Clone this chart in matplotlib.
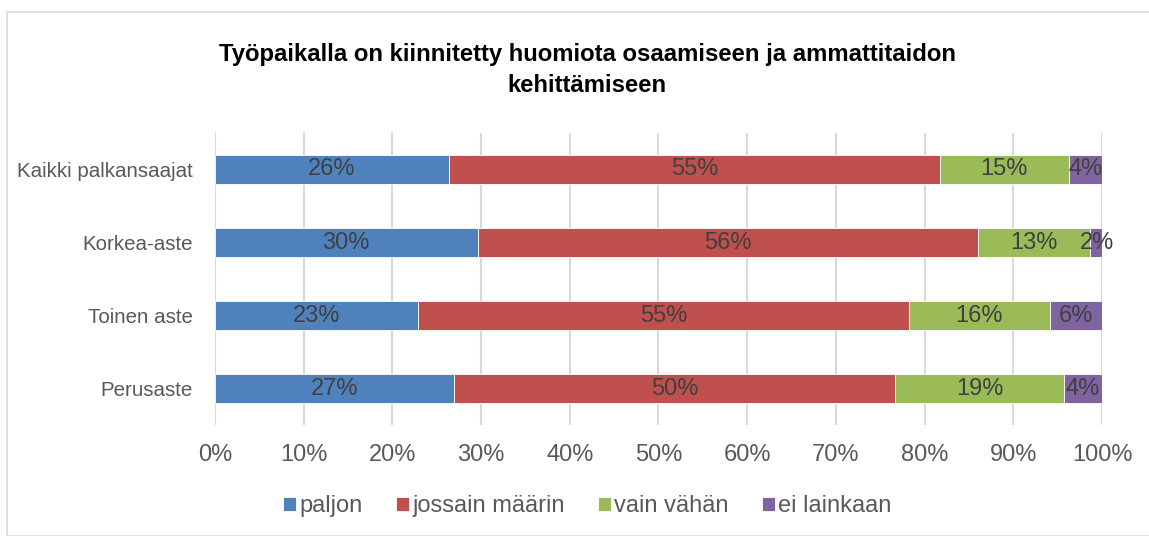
import matplotlib.pyplot as plt
import matplotlib.patches as mpatches
from matplotlib import font_manager

# data (shares in percent)
categories = ['Kaikki palkansaajat', 'Korkea-aste', 'Toinen aste', 'Perusaste']
series_names = ['paljon', 'jossain määrin', 'vain vähän', 'ei lainkaan']
paljon = [26.4, 29.6, 22.9, 26.9]
jossain = [55.3, 56.4, 55.3, 49.8]
vain_vahan = [14.6, 12.6, 15.9, 19.0]
ei_lainkaan = [3.7, 1.6, 5.9, 4.3]
x_ticks = [0, 10, 20, 30, 40, 50, 60, 70, 80, 90, 100]

colors = ['#4F81BD', '#C0504D', '#9BBB59', '#8064A2']

installed = {f.name for f in font_manager.fontManager.ttflist}
narrow = 'Liberation Sans Narrow' if 'Liberation Sans Narrow' in installed else None
plt.rcParams['font.family'] = ['Liberation Sans', 'DejaVu Sans']

fig = plt.figure(figsize=(11.49, 5.36), dpi=100)
ax = fig.add_axes([0.1871, 0.207, 0.7720, 0.5449])

values = [paljon, jossain, vain_vahan, ei_lainkaan]
ypos = list(range(len(categories)))
left = [0.0] * len(categories)
for name, vals, col in zip(series_names, values, colors):
    ax.barh(ypos, vals, left=left, height=0.4, color=col, label=name,
            edgecolor='white', linewidth=0.6, zorder=3)
    for y, l, v in zip(ypos, left, vals):
        ax.text(l + v / 2, y, f'{v:.0f}%', ha='center', va='center',
                fontsize=17, color='#404040', zorder=4)
    left = [a + b for a, b in zip(left, vals)]

ax.set_xlim(0, 100)
ax.set_ylim(3.5, -0.5)
ax.set_xticks(x_ticks)
ax.set_xticklabels([f'{t}%' for t in x_ticks])
ax.set_yticks(ypos)
if narrow:
    ax.set_yticklabels(categories, fontfamily=narrow, fontsize=17)
else:
    ax.set_yticklabels(categories, fontsize=14.8)
ax.tick_params(axis='x', length=0, pad=14, labelsize=17, labelcolor='#595959')
ax.tick_params(axis='y', length=0, pad=16, labelcolor='#595959')
ax.grid(axis='x', color='#D9D9D9', linewidth=1.5, zorder=0)
for s in ax.spines.values():
    s.set_visible(False)

fig.text(0.511, 0.87, 'Työpaikalla on kiinnitetty huomiota osaamiseen ja ammattitaidon\nkehittämiseen',
         ha='center', va='center', fontsize=17.2, fontweight='bold',
         color='black', linespacing=1.45)

fig.legend(loc='center', bbox_to_anchor=(0.511, 0.056), ncol=4, frameon=False,
           fontsize=17, handlelength=0.55, handleheight=0.55, handletextpad=0.15,
           columnspacing=1.4, labelcolor='#595959')

# outer chart border
fig.patches.append(mpatches.Rectangle((7 / 1149, 0), 1.1, 1 - 12 / 536, transform=fig.transFigure,
                                      fill=False, edgecolor='#D9D9D9', linewidth=1.2))

fig.savefig('out.png', dpi=100)
